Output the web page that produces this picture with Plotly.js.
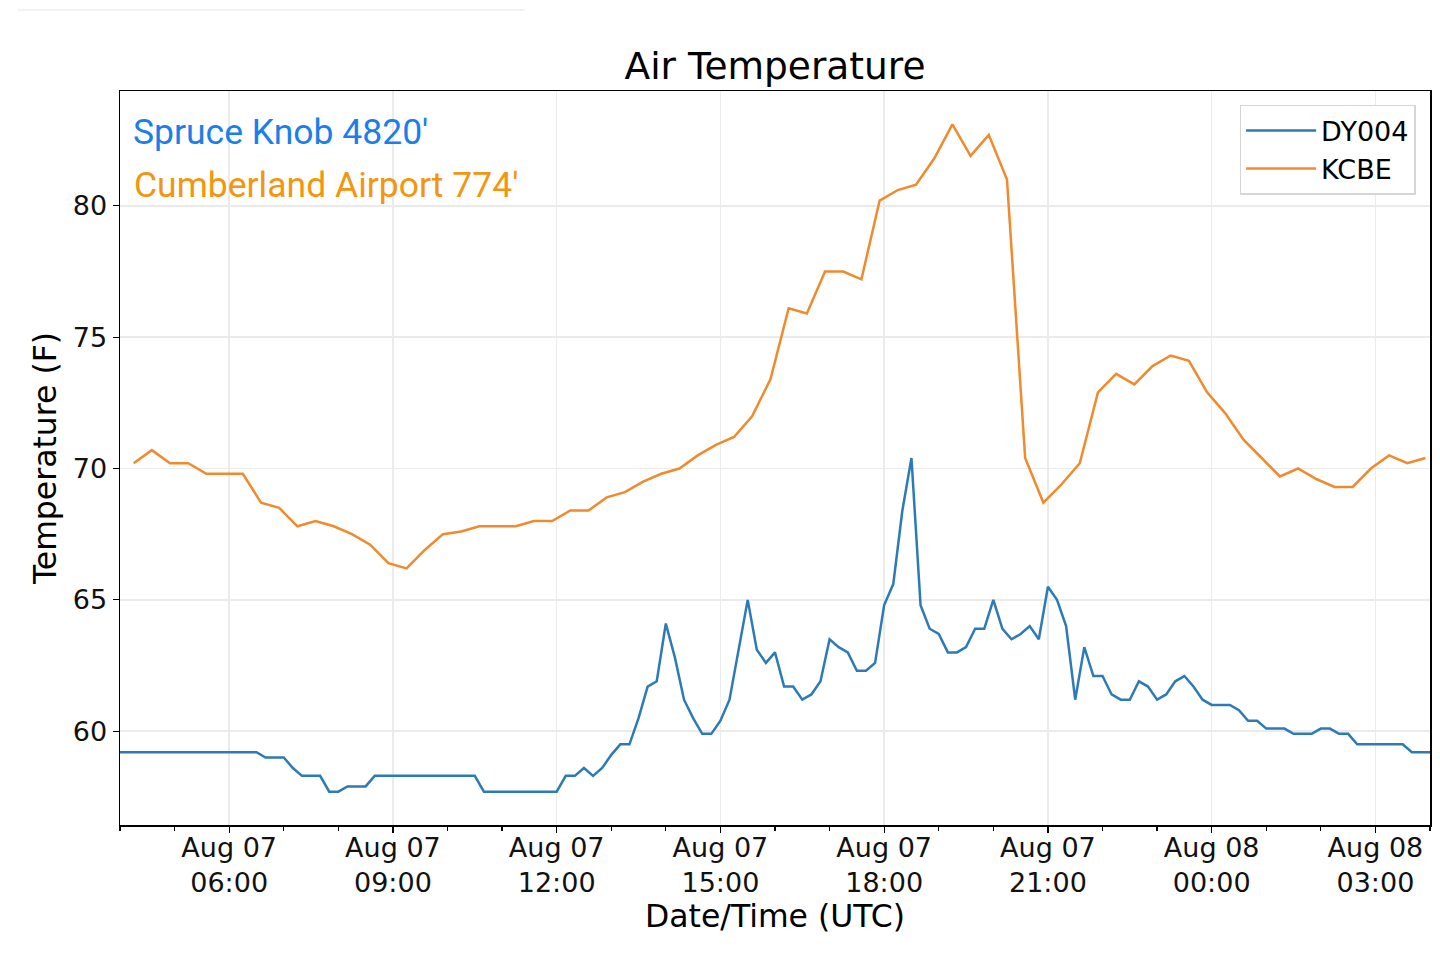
<!DOCTYPE html>
<html>
<head>
<meta charset="utf-8">
<script src="https://cdn.plot.ly/plotly-3.0.1.min.js"></script>
<style>
  html, body { margin: 0; padding: 0; background: #fff; }
  #chart { width: 1440px; height: 954px; }
</style>
</head>
<body>
<div id="chart"></div>
<script>
// Station names and labels
const stationNames = ['DY004', 'KCBE'];
const stationLabels = ["Spruce Knob 4820'", "Cumberland Airport 774'"];

// DY004 reports every 10 minutes, starting 04:00 UTC
const dy004Start = '2019-08-07T04:00:00Z';
const dy004StepMin = 10;
const dy004Temps = [
  59.2, 59.2, 59.2, 59.2, 59.2, 59.2, 59.2, 59.2, 59.2, 59.2,
  59.2, 59.2, 59.2, 59.2, 59.2, 59.2, 59.0, 59.0, 59.0, 58.6,
  58.3, 58.3, 58.3, 57.7, 57.7, 57.9, 57.9, 57.9, 58.3, 58.3,
  58.3, 58.3, 58.3, 58.3, 58.3, 58.3, 58.3, 58.3, 58.3, 58.3,
  57.7, 57.7, 57.7, 57.7, 57.7, 57.7, 57.7, 57.7, 57.7, 58.3,
  58.3, 58.6, 58.3, 58.6, 59.1, 59.5, 59.5, 60.5, 61.7, 61.9,
  64.1, 62.8, 61.2, 60.5, 59.9, 59.9, 60.4, 61.2, 63.1, 65.0,
  63.1, 62.6, 63.0, 61.7, 61.7, 61.2, 61.4, 61.9, 63.5, 63.2,
  63.0, 62.3, 62.3, 62.6, 64.8, 65.6, 68.4, 70.4, 64.8, 63.9,
  63.7, 63.0, 63.0, 63.2, 63.9, 63.9, 65.0, 63.9, 63.5, 63.7,
  64.0, 63.5, 65.5, 65.0, 64.0, 61.2, 63.2, 62.1, 62.1, 61.4,
  61.2, 61.2, 61.9, 61.7, 61.2, 61.4, 61.9, 62.1, 61.7, 61.2,
  61.0, 61.0, 61.0, 60.8, 60.4, 60.4, 60.1, 60.1, 60.1, 59.9,
  59.9, 59.9, 60.1, 60.1, 59.9, 59.9, 59.5, 59.5, 59.5, 59.5,
  59.5, 59.5, 59.2, 59.2, 59.2
];

// KCBE reports every 20 minutes (:15, :35, :55)
const kcbeStart = '2019-08-07T04:15:00Z';
const kcbeStepMin = 20;
const kcbeTemps = [
  70.2, 70.7, 70.2, 70.2, 69.8, 69.8, 69.8, 68.7, 68.5, 67.8,
  68.0, 67.8, 67.5, 67.1, 66.4, 66.2, 66.9, 67.5, 67.6, 67.8,
  67.8, 67.8, 68.0, 68.0, 68.4, 68.4, 68.9, 69.1, 69.5, 69.8,
  70.0, 70.5, 70.9, 71.2, 72.0, 73.4, 76.1, 75.9, 77.5, 77.5,
  77.2, 80.2, 80.6, 80.8, 81.8, 83.1, 81.9, 82.7, 81.0, 70.4,
  68.7, 69.4, 70.2, 72.9, 73.6, 73.2, 73.9, 74.3, 74.1, 72.9,
  72.1, 71.1, 70.4, 69.7, 70.0, 69.6, 69.3, 69.3, 70.0, 70.5,
  70.2, 70.4
];

// Axis range and ticks
const xRange = ['2019-08-07 04:00', '2019-08-08 04:00'];
const yTicks = [60, 65, 70, 75, 80];

// Build time stamps for a regular reporting interval
function makeTimes(start, stepMin, count) {
  const t0 = new Date(start).getTime();
  const times = [];
  for (let i = 0; i < count; i++) {
    const d = new Date(t0 + i * stepMin * 60000);
    times.push(d.toISOString().slice(0, 16).replace('T', ' '));
  }
  return times;
}

const dy004Times = makeTimes(dy004Start, dy004StepMin, dy004Temps.length);
const kcbeTimes = makeTimes(kcbeStart, kcbeStepMin, kcbeTemps.length);

const font = 'DejaVu Sans, sans-serif';

const data = [
  {
    x: dy004Times,
    y: dy004Temps,
    name: stationNames[0],
    mode: 'lines',
    type: 'scatter',
    line: { color: '#2c7bb6', width: 2.5 },
  },
  {
    x: kcbeTimes,
    y: kcbeTemps,
    name: stationNames[1],
    mode: 'lines',
    type: 'scatter',
    line: { color: '#f08a2c', width: 2.5 },
  },
];

const axisCommon = {
  showline: true,
  mirror: true,
  linecolor: '#000',
  linewidth: 1.5,
  showgrid: true,
  gridcolor: '#ebebeb',
  gridwidth: 1.5,
  zeroline: false,
  ticks: 'outside',
  ticklen: 6,
  tickwidth: 1.2,
  tickcolor: '#000',
  tickfont: { family: font, size: 27, color: '#111' },
};

const layout = {
  width: 1440,
  height: 954,
  paper_bgcolor: '#fff',
  plot_bgcolor: '#fff',
  margin: { l: 120, r: 10, t: 91, b: 129 },
  showlegend: true,
  title: {
    text: 'Air Temperature',
    font: { family: font, size: 37.5, color: '#000' },
    x: 0.5,
    xref: 'paper',
    y: 1 - 66 / 954,
    yanchor: 'middle',
  },
  xaxis: Object.assign({}, axisCommon, {
    type: 'date',
    range: xRange,
    tick0: '2019-08-07 00:00',
    dtick: 3 * 3600000,
    tickformat: '%b %d<br>%H:%M',
    ticklabelstandoff: -8,
    minor: { dtick: 3600000, ticks: 'outside', ticklen: 4, tickcolor: '#000', showgrid: false },
    title: {
      text: 'Date/Time (UTC)',
      font: { family: font, size: 31.5, color: '#000' },
      standoff: 0,
    },
  }),
  yaxis: Object.assign({}, axisCommon, {
    range: [56.43, 84.37],
    tickvals: yTicks,
    ticksuffix: ' ',
    title: {
      text: 'Temperature (F)',
      font: { family: font, size: 31.5, color: '#000' },
      standoff: 6,
    },
  }),
  legend: {
    x: 0.989,
    y: 0.981,
    xanchor: 'right',
    yanchor: 'top',
    bgcolor: '#fff',
    bordercolor: '#d6d6d6',
    borderwidth: 1.5,
    itemwidth: 70,
    font: { family: font, size: 27, color: '#000' },
  },
  annotations: [
    {
      text: stationLabels[0],
      xref: 'paper', yref: 'paper',
      x: 0.0085, y: 0.944,
      xanchor: 'left', yanchor: 'middle',
      showarrow: false,
      font: { family: 'Roboto, sans-serif', size: 35.5, color: '#1a7fec' },
    },
    {
      text: stationLabels[1],
      xref: 'paper', yref: 'paper',
      x: 0.0092, y: 0.872,
      xanchor: 'left', yanchor: 'middle',
      showarrow: false,
      font: { family: 'Roboto, sans-serif', size: 35.5, color: '#f3960f' },
    },
  ],
  shapes: [
    {
      type: 'line',
      xref: 'paper', yref: 'paper',
      x0: -0.078, x1: 0.309, y0: 1.1104, y1: 1.1104,
      line: { color: '#eeeeee', width: 1.5 },
    },
  ],
};

Plotly.newPlot('chart', data, layout, { staticPlot: true });
</script>
</body>
</html>
